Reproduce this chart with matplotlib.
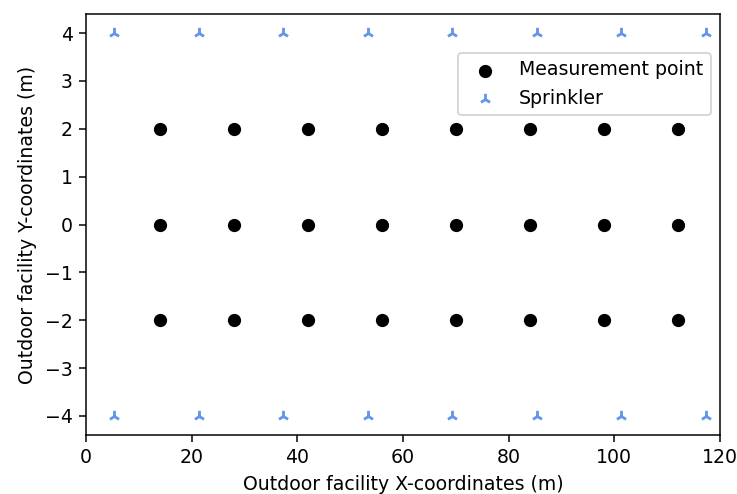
import matplotlib
matplotlib.use("Agg")
import matplotlib.pyplot as plt

meas_x = [14, 28, 42, 56, 70, 84, 98, 112]
meas_y = [-2, 0, 2]
spr_x = [5.33, 21.33, 37.33, 53.33, 69.33, 85.33, 101.33, 117.33]
spr_y = [-4, 4]

mx = [x for y in meas_y for x in meas_x]
my = [y for y in meas_y for x in meas_x]
sx = [x for y in spr_y for x in spr_x]
sy = [y for y in spr_y for x in spr_x]

DPI = 136
fig = plt.figure(figsize=(737/DPI, 494/DPI), dpi=DPI)
ax = fig.add_axes([86/737, 1-435/494, (720-86)/737, (435-14)/494])
ax.scatter(mx, my, color="black", label="Measurement point")
ax.scatter(sx, sy, marker="2", color="cornflowerblue", label="Sprinkler")
ax.set_xlim(0, 120)
ax.set_xlabel("Outdoor facility X-coordinates (m)")
ax.set_ylabel("Outdoor facility Y-coordinates (m)")
ax.legend(loc="upper right", bbox_to_anchor=(1.0, 0.93))
fig.savefig("out.png", dpi=DPI)
